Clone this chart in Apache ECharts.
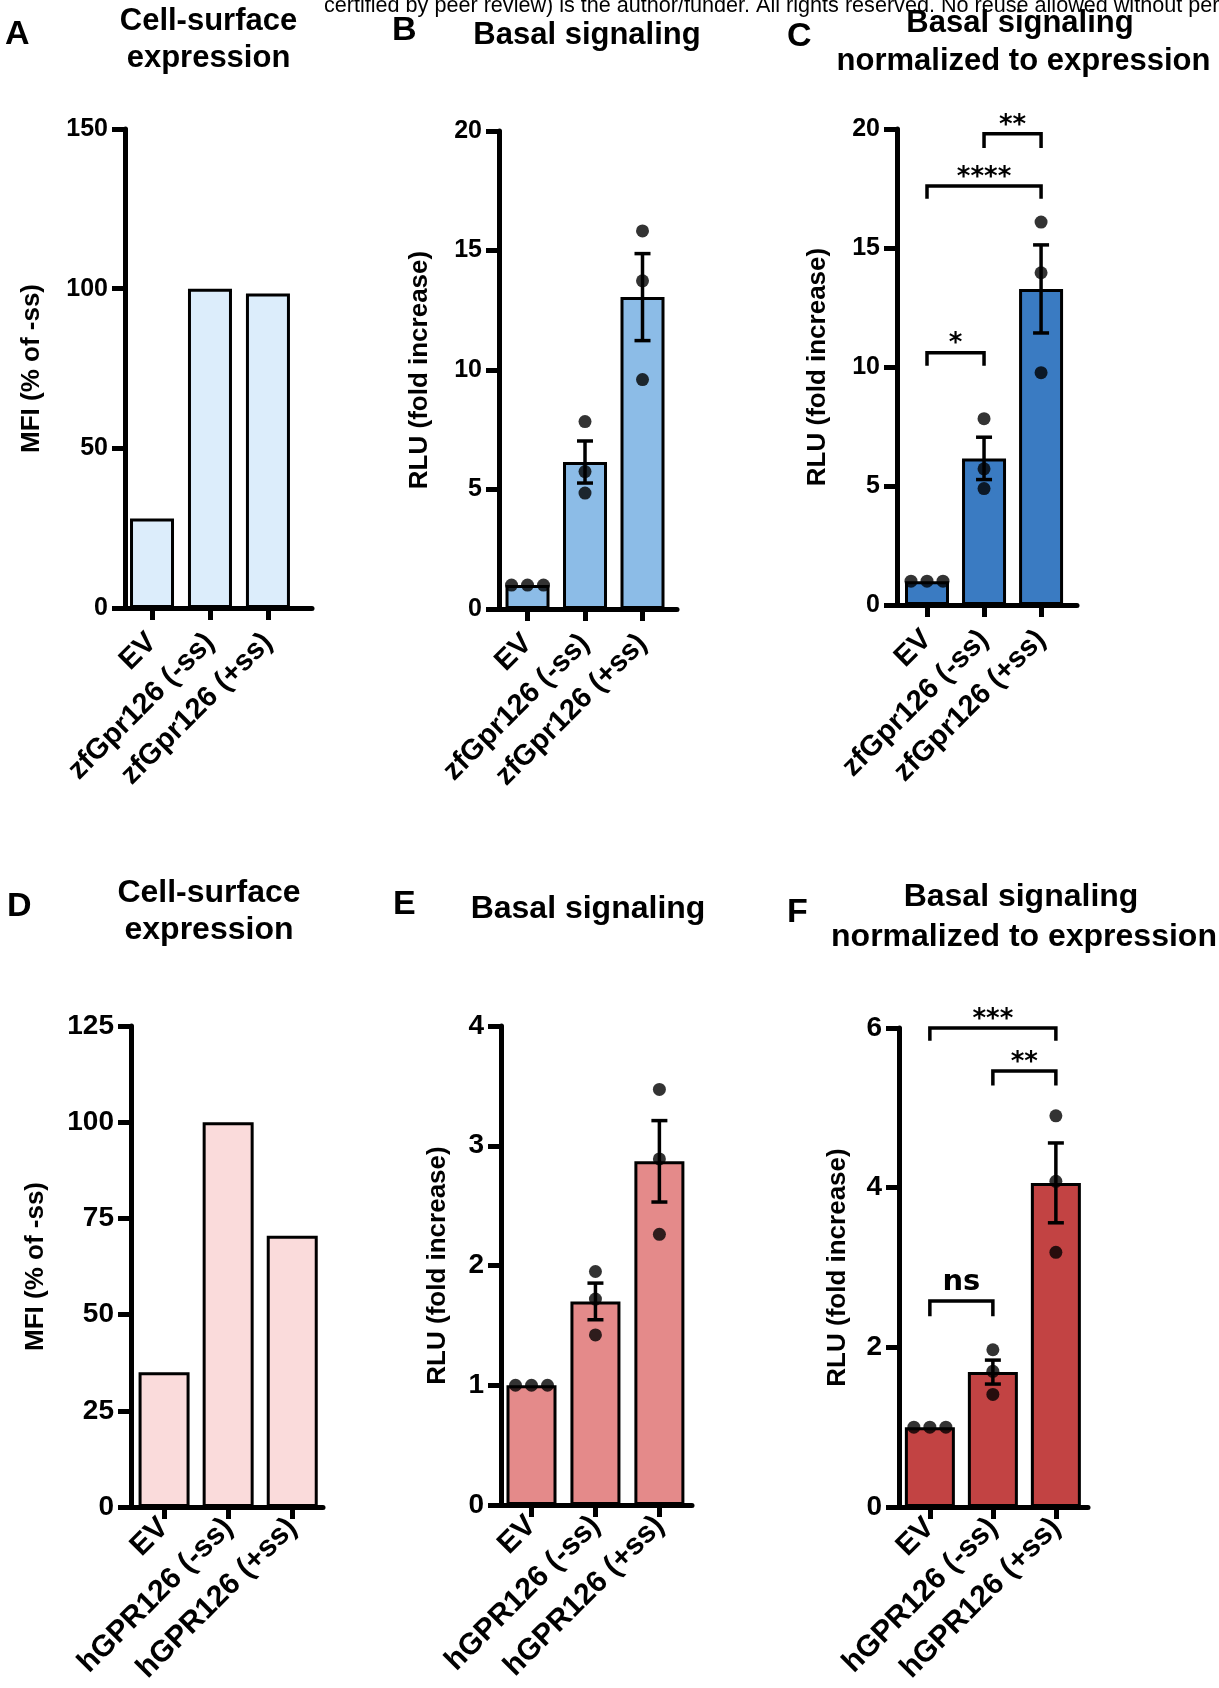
<!DOCTYPE html>
<html><head><meta charset="utf-8">
<script src="https://cdn.jsdelivr.net/npm/echarts@6.0.0/dist/echarts.min.js"></script>
<style>html,body{margin:0;padding:0;background:#fff}#c{width:1219px;height:1688px}</style>
</head><body><div id="c"></div>
<script>
// ---------- data ----------
const catsZf = ['EV', 'zfGpr126 (-ss)', 'zfGpr126 (+ss)'];
const catsH = ['EV', 'hGPR126 (-ss)', 'hGPR126 (+ss)'];

const mfiZf = [28, 100, 98.5];
const basalZfMean = [1, 6.15, 13.05];
const basalZfSem = [0, 0.88, 1.82];
const basalZfPoints = [[1, 1, 1], [7.84, 5.75, 4.85], [15.82, 13.73, 9.6]];
const normZfMean = [1, 6.16, 13.28];
const normZfSem = [0, 0.89, 1.85];
const normZfPoints = [[1, 1, 1], [7.83, 5.72, 4.89], [16.09, 13.96, 9.76]];
const normZfBrackets = [[1, 2, 19.8, 19.2], [0, 2, 17.6, 17.07], [0, 1, 10.6, 10.05]];
const normZfLabels = ['**', '****', '*'];

const mfiH = [35, 100, 70.5];
const basalHMean = [1, 1.70, 2.87];
const basalHSem = [0, 0.153, 0.34];
const basalHPoints = [[1, 1, 1], [1.95, 1.72, 1.42], [3.47, 2.89, 2.26]];
const normHMean = [1, 1.69, 4.06];
const normHSem = [0, 0.15, 0.50];
const normHPoints = [[1, 1, 1], [1.97, 1.70, 1.41], [4.90, 4.08, 3.19]];
const normHBrackets = [[0, 2, 6.0, 5.84], [1, 2, 5.46, 5.28], [0, 1, 2.58, 2.39]];
const normHLabels = ['***', '**', 'ns'];

const yTicksA = [0, 150, 50];   // min, max, step
const yTicksB = [0, 20, 5];
const yTicksC = [0, 20, 5];
const yTicksD = [0, 125, 25];
const yTicksE = [0, 4, 1];
const yTicksF = [0, 6, 2];

const yNameMFI = 'MFI (% of -ss)';
const yNameRLU = 'RLU (fold increase)';

// ---------- layout / style ----------
const FONT = '"Liberation Sans", Arial, Helvetica, sans-serif';
const panels = [
  {cats: catsZf, bars: mfiZf, ticks: yTicksA, name: yNameMFI, color: '#DCEDFB',
   grid: {left: 125, top: 129, width: 187, height: 479}, xr: [-0.466, 2.76], barW: 44, gap: 80, yfs: 25, xfs: 29, xm: 30},
  {cats: catsZf, bars: basalZfMean, sem: basalZfSem, pts: basalZfPoints, ticks: yTicksB, name: yNameRLU, color: '#8CBCE7',
   grid: {left: 499, top: 131, width: 178, height: 478}, xr: [-0.496, 2.6], barW: 44, gap: 66, yfs: 25, xfs: 29, xm: 30},
  {cats: catsZf, bars: normZfMean, sem: normZfSem, pts: normZfPoints, br: normZfBrackets, brl: normZfLabels, ticks: yTicksC, name: yNameRLU, color: '#3A7BC2',
   grid: {left: 897, top: 129, width: 180, height: 476}, xr: [-0.526, 2.63], barW: 44, gap: 66, yfs: 25, xfs: 29, xm: 30},
  {cats: catsH, bars: mfiH, ticks: yTicksD, name: yNameMFI, color: '#FADBDB',
   grid: {left: 131, top: 1026, width: 192, height: 481}, xr: [-0.516, 2.48], barW: 51, gap: 82, yfs: 28, xfs: 30, xm: 16},
  {cats: catsH, bars: basalHMean, sem: basalHSem, pts: basalHPoints, ticks: yTicksE, name: yNameRLU, color: '#E48A8A',
   grid: {left: 501, top: 1026, width: 191, height: 479}, xr: [-0.477, 2.51], barW: 50, gap: 50, yfs: 28, xfs: 30, xm: 16},
  {cats: catsH, bars: normHMean, sem: normHSem, pts: normHPoints, br: normHBrackets, brl: normHLabels, ticks: yTicksF, name: yNameRLU, color: '#C24343',
   grid: {left: 899, top: 1028, width: 189, height: 479}, xr: [-0.49, 2.51], barW: 50, gap: 48, yfs: 28, xfs: 30, xm: 16}
];

const grids = [], xAxes = [], yAxes = [], series = [];
panels.forEach((p, k) => {
  grids.push(Object.assign({}, p.grid));
  const catIdx = p.cats.map((c, i) => i);
  xAxes.push({
    gridIndex: k, type: 'value', min: p.xr[0], max: p.xr[1],
    splitLine: {show: false},
    axisLine: {show: true, onZero: false, lineStyle: {color: '#000', width: 5}},
    axisTick: {show: true, length: 12, customValues: catIdx, lineStyle: {color: '#000', width: 5}},
    axisLabel: {show: true, customValues: catIdx, rotate: 45, margin: p.xm, color: '#000',
      fontFamily: FONT, fontWeight: 'bold', fontSize: p.xfs,
      formatter: v => p.cats[Math.round(v)] || ''}
  });
  yAxes.push({
    gridIndex: k, type: 'value', min: p.ticks[0], max: p.ticks[1], interval: p.ticks[2],
    name: p.name, nameLocation: 'middle', nameGap: p.gap,
    nameTextStyle: {color: '#000', fontFamily: FONT, fontWeight: 'bold', fontSize: 26},
    splitLine: {show: false},
    axisLine: {show: true, onZero: false, lineStyle: {color: '#000', width: 5}},
    axisTick: {show: true, length: 13, lineStyle: {color: '#000', width: 5}},
    axisLabel: {color: '#000', fontFamily: FONT, fontWeight: 'bold', fontSize: p.yfs, margin: 17}
  });
  series.push({
    type: 'bar', xAxisIndex: k, yAxisIndex: k, barWidth: p.barW, z: 2,
    itemStyle: {color: p.color, borderColor: '#000', borderWidth: 3},
    data: p.bars.map((v, i) => [i, v])
  });
  if (p.sem) {
    series.push({
      type: 'custom', xAxisIndex: k, yAxisIndex: k, z: 3, clip: false,
      encode: {x: 0, y: [1, 2]},
      data: p.bars.map((m, i) => [i, m - p.sem[i], m + p.sem[i]]).filter((d, i) => p.sem[i] > 0),
      renderItem: (params, api) => {
        const x = api.value(0);
        const a = api.coord([x, api.value(2)]), b = api.coord([x, api.value(1)]);
        const hw = 8, st = {stroke: '#000', lineWidth: 3.5};
        return {type: 'group', children: [
          {type: 'line', shape: {x1: a[0], y1: a[1], x2: b[0], y2: b[1]}, style: st},
          {type: 'line', shape: {x1: a[0] - hw, y1: a[1], x2: a[0] + hw, y2: a[1]}, style: st},
          {type: 'line', shape: {x1: b[0] - hw, y1: b[1], x2: b[0] + hw, y2: b[1]}, style: st}
        ]};
      }
    });
  }
  if (p.pts) {
    const sd = [];
    p.pts.forEach((grp, i) => {
      grp.forEach((v, j) => {
        const same = grp.filter(w => w === v).length;
        const rank = grp.slice(0, j).filter(w => w === v).length;
        sd.push({value: [i, v], symbolOffset: [(rank - (same - 1) / 2) * 16, 0]});
      });
    });
    series.push({
      type: 'scatter', xAxisIndex: k, yAxisIndex: k, z: 5, symbol: 'circle', symbolSize: 13,
      itemStyle: {color: '#000'}, data: sd
    });
  }
  if (p.br) {
    series.push({
      type: 'custom', xAxisIndex: k, yAxisIndex: k, z: 5, clip: false,
      encode: {x: [0, 1], y: [2, 3]},
      data: p.br,
      renderItem: (params, api) => {
        const x1 = api.value(0), x2 = api.value(1), yt = api.value(2), yp = api.value(3);
        const a = api.coord([x1, yp]), b = api.coord([x1, yt]), c = api.coord([x2, yt]), d = api.coord([x2, yp]);
        const lab = p.brl[params.dataIndex];
        const isNs = lab === 'ns';
        return {type: 'group', children: [
          {type: 'polyline', shape: {points: [a, b, c, d]}, style: {stroke: '#000', lineWidth: 3.5, fill: null}},
          {type: 'text', x: (b[0] + c[0]) / 2, y: b[1] + (isNs ? -19 : -8),
           style: {text: lab, fill: '#000', align: 'center', verticalAlign: 'middle',
             textAlign: 'center', textVerticalAlign: 'middle',
             font: isNs ? 'bold 29px "DejaVu Sans", sans-serif' : 'bold 26px "DejaVu Sans", sans-serif'}}
        ]};
      }
    });
  }
});

// ---------- titles ----------
function txt(text, x, y, size, weight, align) {
  return {type: 'text', x: x, y: y, silent: true,
    style: {text: text, fill: '#000', font: (weight || 'bold') + ' ' + size + 'px ' + FONT,
      align: align || 'center', verticalAlign: 'middle', textAlign: align || 'center', textVerticalAlign: 'middle'}};
}
const graphics = [
  txt('certified by peer review) is the author/funder. All rights reserved. No reuse allowed without permission.', 324, 6, 21.6, 'normal', 'left'),
  txt('A', 5, 35, 34, 'bold', 'left'),
  txt('Cell-surface', 208.5, 21.5, 31),
  txt('expression', 208.5, 58, 31),
  txt('B', 392, 31, 34, 'bold', 'left'),
  txt('Basal signaling', 587, 35.5, 31),
  txt('C', 787, 37, 34, 'bold', 'left'),
  txt('Basal signaling', 1020, 23.5, 31),
  txt('normalized to expression', 1023.5, 61, 31),
  txt('D', 7, 907, 34, 'bold', 'left'),
  txt('Cell-surface', 209, 893, 32),
  txt('expression', 209, 930, 32),
  txt('E', 393, 905, 34, 'bold', 'left'),
  txt('Basal signaling', 588, 909, 32),
  txt('F', 787, 913, 34, 'bold', 'left'),
  txt('Basal signaling', 1021, 897, 32),
  txt('normalized to expression', 1024, 937, 32)
];

const chart = echarts.init(document.getElementById('c'), null, {renderer: 'canvas', width: 1219, height: 1688});
chart.setOption({
  animation: false,
  backgroundColor: '#fff',
  grid: grids, xAxis: xAxes, yAxis: yAxes, series: series,
  graphic: {elements: graphics}
});
</script></body></html>
